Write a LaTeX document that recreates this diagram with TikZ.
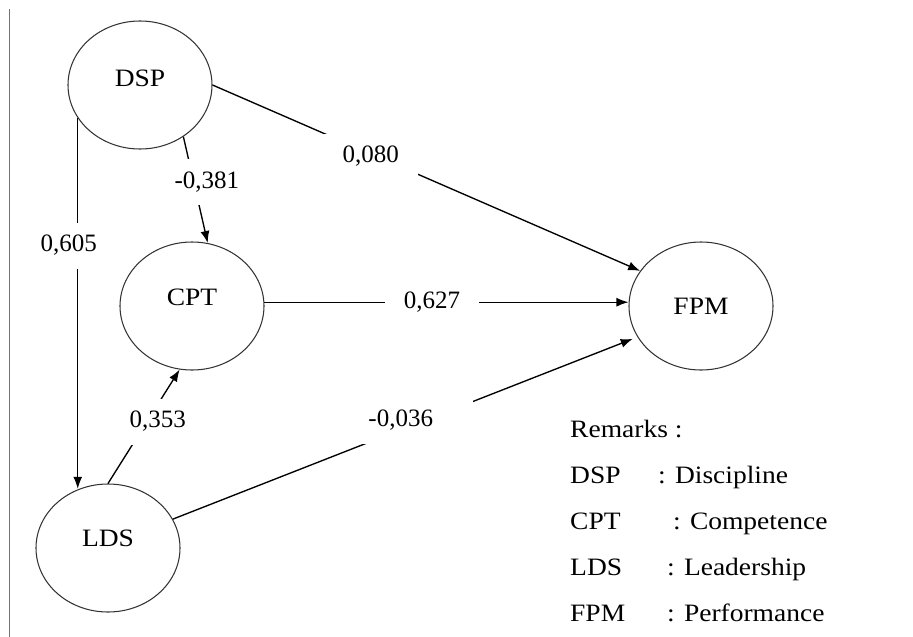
\documentclass[tikz,border=0pt]{standalone}
\usepackage{fontspec}
\setmainfont{Liberation Serif}
\newfontfamily\wordfont{Liberation Serif}[FakeStretch=1.1]
\usetikzlibrary{shapes.geometric,arrows.meta}

\begin{document}
\begin{tikzpicture}[x=1pt,y=-1pt,
  construct/.style={ellipse, draw=black!80, line width=1.05pt,
    minimum width=144pt, minimum height=128pt, inner sep=0pt},
  cname/.style={font=\wordfont\fontsize{25}{30}\selectfont, inner sep=0pt},
  link/.style={draw=black, line width=1.35pt, -{Latex[length=12pt,width=9pt]}},
  coef/.style={fill=white, inner xsep=19pt, inner ysep=12pt,
    font=\fontsize{25}{30}\selectfont, text height=17pt, text depth=5pt},
  legend/.style={anchor=base west, inner sep=0pt,
    font=\wordfont\fontsize{25}{30}\selectfont}
]
\useasboundingbox (0,0) rectangle (913,637);

% thin rule along the left margin
\draw[black!55, line width=0.8pt] (9.5,9) -- (9.5,637);

% constructs
\node[construct, label={[name=dsp-name, cname, yshift=7pt]center:DSP}] (dsp) at (140,85) {};
\node[construct, label={[name=cpt-name, cname, yshift=9pt]center:CPT}] (cpt) at (192,306) {};
\node[construct, label={[name=lds-name, cname, yshift=10pt]center:LDS}] (lds) at (108,548) {};
\node[construct, label={[name=fpm-name, cname]center:FPM}] (fpm) at (701,306) {};

% path coefficients
\draw[link] (dsp.east) -- node[coef, pos=0.37, yshift=-3pt] {0,080} (fpm.150);
\draw[link] (dsp.-50) -- node[coef, pos=0.43, xshift=13pt] {-0,381} (cpt.76);
\draw[link] (dsp.208) -- node[coef, pos=0.345, xshift=-9pt] {0,605} (dsp.208 |- lds.116);
\draw[link] (cpt.3) -- node[coef, pos=0.46] {0,627} (cpt.3 -| fpm.west);
\draw[link] (lds.north) -- node[coef, pos=0.54, xshift=11pt] {0,353} (cpt.259);
\draw[link, shorten >=5pt] (lds.24) -- node[coef, inner xsep=8pt, pos=0.525, yshift=3pt]
  {-0,036\kern32pt} (fpm.206);

% legend
\node[legend] (rem) at (570,437) {Remarks :};
\node[legend] (k1) at (570,483) {DSP};
\node[legend] (v1) at (658,483) {: Discipline};
\node[legend] (k2) at (570,529) {CPT};
\node[legend] (v2) at (673,529) {: Competence};
\node[legend] (k3) at (570,575) {LDS};
\node[legend] (v3) at (667,575) {: Leadership};
\node[legend] (k4) at (570,621) {FPM};
\node[legend] (v4) at (667,621) {: Performance};
\end{tikzpicture}
\end{document}
